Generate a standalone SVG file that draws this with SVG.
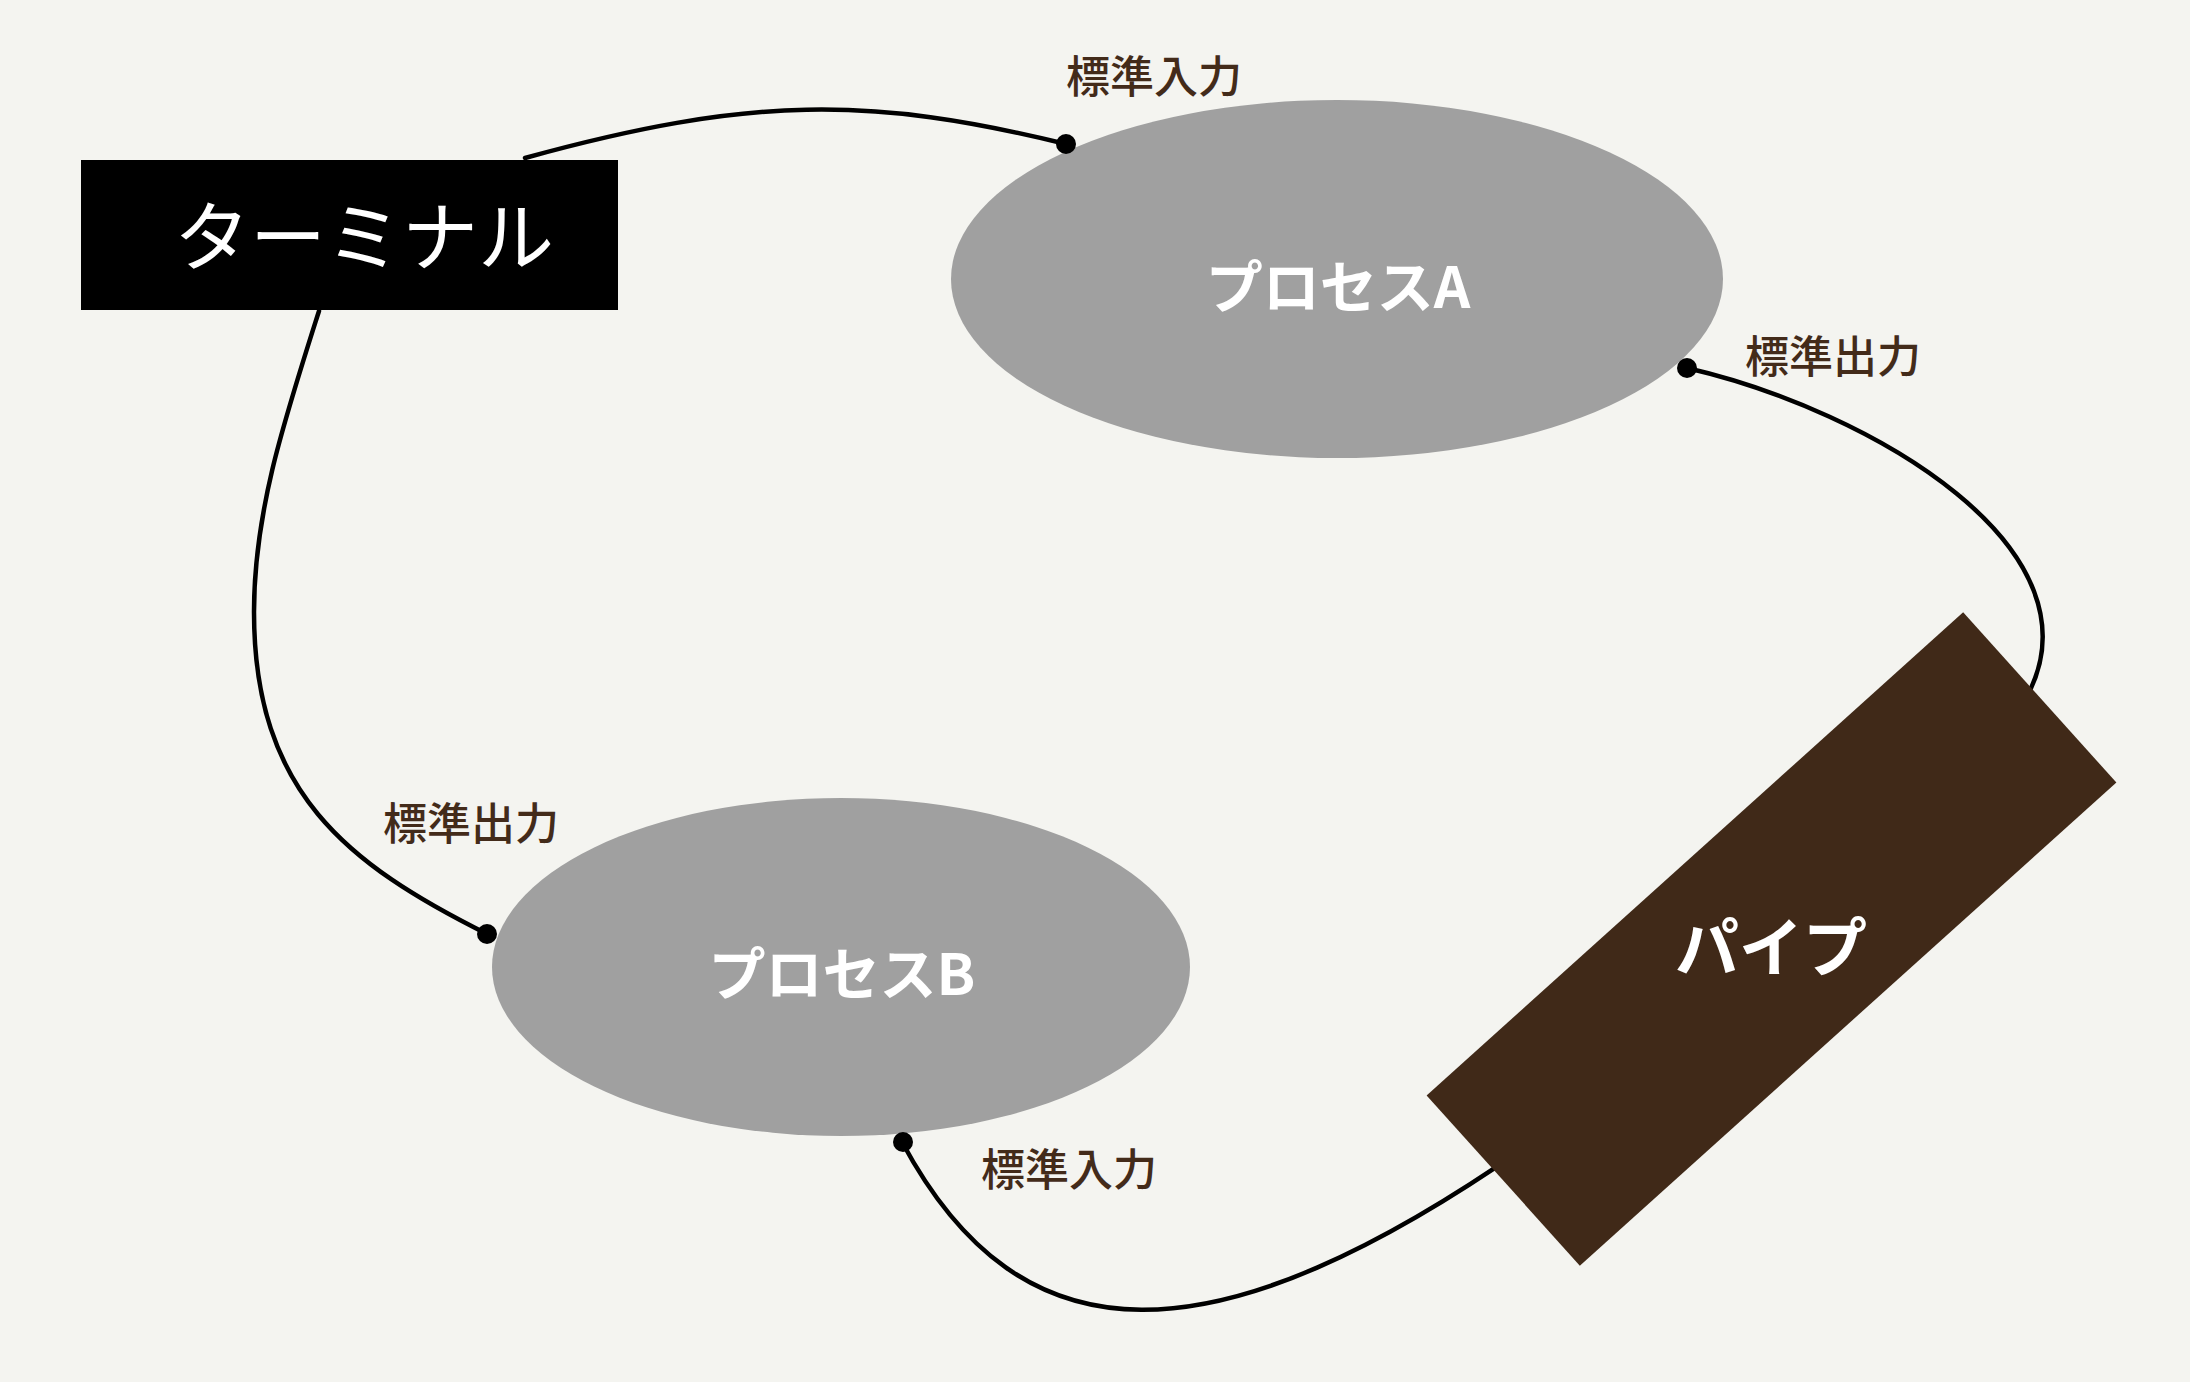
<svg xmlns="http://www.w3.org/2000/svg" width="2190" height="1382" viewBox="0 0 2190 1382">
  <style>
    .conn { fill: none; stroke: #000; stroke-width: 4.5; stroke-linecap: round; }
    .dot { fill: #000; }
    .proc { fill: #a0a0a0; }
    .ptext { font-family: "Noto Sans CJK JP", "Noto Sans", sans-serif; font-weight: 700; font-size: 57px; fill: #fff; text-anchor: middle; }
    .lbl { font-family: "Noto Sans CJK JP", "Noto Sans", sans-serif; font-weight: 500; font-size: 44px; fill: #432b1a; }
  </style>
  <rect x="0" y="0" width="2190" height="1382" fill="#f4f4f0"/>
  <g id="connectors">
    <path class="conn" d="M525,158 C750,96 870,96 1066,144"/>
    <path class="conn" d="M1687,368 C1870,410 2110,550 2025,700"/>
    <path class="conn" d="M1540,1137 C1210,1371 1020,1362 902,1142"/>
    <path class="conn" d="M319,311 C284,421 254,512 254,612 C254,792 347,864 487,934"/>
  </g>
  <g id="terminal">
    <rect x="81" y="160" width="537" height="150" fill="#000"/>
    <text x="364" y="265" font-family="'Noto Sans CJK JP', 'Noto Sans', sans-serif" font-weight="400" font-size="76" fill="#fff" text-anchor="middle">ターミナル</text>
  </g>
  <g id="processA">
    <ellipse class="proc" cx="1337" cy="279" rx="386" ry="179"/>
    <text class="ptext" x="1338" y="308">プロセスA</text>
  </g>
  <g id="processB">
    <ellipse class="proc" cx="841" cy="967" rx="349" ry="169"/>
    <text class="ptext" x="842" y="995">プロセスB</text>
  </g>
  <g id="pipe">
    <rect x="-361" y="-114.5" width="722" height="229" fill="#402918" transform="translate(1771.5,939) rotate(-42)"/>
    <text x="1771" y="971" font-family="'Noto Sans CJK JP', 'Noto Sans', sans-serif" font-weight="700" font-size="64" fill="#fff" text-anchor="middle">パイプ</text>
  </g>
  <g id="ports">
    <circle class="dot" cx="1066" cy="144" r="10"/>
    <circle class="dot" cx="1687" cy="368" r="10"/>
    <circle class="dot" cx="487" cy="934" r="10"/>
    <circle class="dot" cx="903" cy="1142" r="10"/>
  </g>
  <g id="labels">
    <text class="lbl" x="1066" y="93">標準入力</text>
    <text class="lbl" x="1745" y="373">標準出力</text>
    <text class="lbl" x="383" y="840">標準出力</text>
    <text class="lbl" x="981" y="1186">標準入力</text>
  </g>
</svg>
